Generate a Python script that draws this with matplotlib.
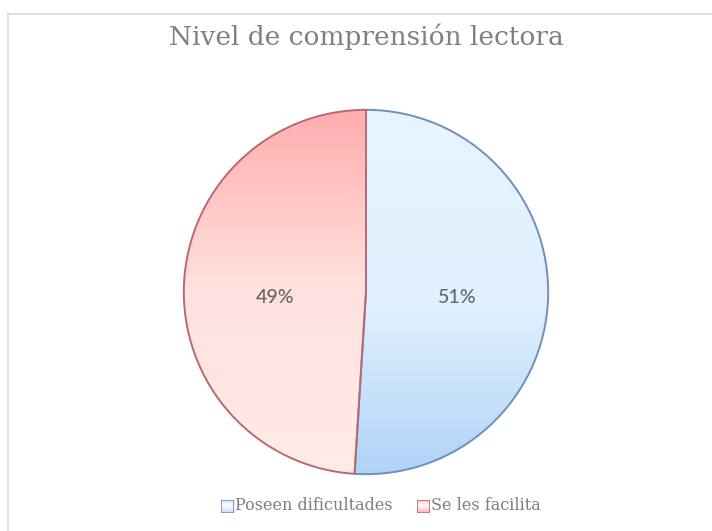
import matplotlib
matplotlib.use("Agg")
import matplotlib.pyplot as plt
import numpy as np
from matplotlib.patches import Rectangle
from matplotlib.colors import LinearSegmentedColormap

title = "Nivel de comprensión lectora"
categories = ["Poseen dificultades", "Se les facilita"]
values = [51, 49]

W, H = 712, 531
fig = plt.figure(figsize=(W / 100, H / 100), dpi=100)
fig.patch.set_facecolor("white")

# chart border (top and left visible)
fig.add_artist(plt.Line2D([8 / W, 1.0], [1 - 14 / H, 1 - 14 / H], color="#d9d9d9", lw=1.2, transform=fig.transFigure))
fig.add_artist(plt.Line2D([8 / W, 8 / W], [0, 1 - 14 / H], color="#d9d9d9", lw=1.2, transform=fig.transFigure))

cx, cy, r = 366, 292, 184
ax = fig.add_axes([(cx - r) / W, (H - cy - r) / H, 2 * r / W, 2 * r / H])

edge_colors = ["#7090bb", "#bb6870"]
wedges, texts, autotexts = ax.pie(
    values, startangle=90, counterclock=False, radius=1,
    colors=["none", "none"],
    wedgeprops=dict(edgecolor="none", linewidth=0),
    autopct="%1.0f%%", pctdistance=0.5,
    textprops=dict(color="#666666", fontsize=14, family="Lato", fontweight="medium"),
)

grads = [
    [(0.0, "#e8f4ff"), (0.55, "#e0f0fe"), (1.0, "#b0d3f7")],
    [(0.0, "#ffadad"), (0.5, "#ffe2df"), (1.0, "#ffebe8")],
]
for w, g, ec in zip(wedges, grads, edge_colors):
    cmap = LinearSegmentedColormap.from_list("g", g)
    grad = np.linspace(0, 1, 256).reshape(-1, 1)
    im = ax.imshow(grad, cmap=cmap, extent=[-1, 1, -1, 1], origin="upper",
                   aspect="auto", zorder=0.5, interpolation="bilinear")
    im.set_clip_path(w)
    w.set_edgecolor(ec)
    w.set_linewidth(1.4)
    w.set_zorder(1)

ax.set_xlim(-1.01, 1.01)
ax.set_ylim(-1.01, 1.01)
ax.set_aspect("equal")
ax.axis("off")
for t in autotexts:
    t.set_zorder(3)
    x, y = t.get_position()
    t.set_position((x, -0.03))

fig.text(cx / W, 1 - 37 / H, title, ha="center", va="center",
         fontsize=19, color="#808080", family="DejaVu Serif")

# legend
leg_y = 1 - 506 / H
items = [(221, "#ffffff", "#cfe3f7", "#7090bb"), (417, "#ffffff", "#ffb8b8", "#bb6870")]
for (x0, c1, c2, ec), label in zip(items, categories):
    sz = 13
    sq_ax = fig.add_axes([x0 / W, leg_y - (sz / 2) / H, sz / W, sz / H])
    cm = LinearSegmentedColormap.from_list("l", [c2, c1, c2])
    sq_ax.imshow(np.linspace(0, 1, 32).reshape(-1, 1), cmap=cm, extent=[0, 1, 0, 1], aspect="auto")
    sq_ax.add_patch(Rectangle((0, 0), 1, 1, fill=False, edgecolor=ec, lw=1.2))
    sq_ax.set_xlim(0, 1); sq_ax.set_ylim(0, 1); sq_ax.axis("off")
    fig.text((x0 + sz + 1) / W, leg_y, label, ha="left", va="center",
             fontsize=11.5, color="#7f7f7f", family="DejaVu Serif")

fig.savefig("out.png", dpi=100, facecolor="white")
